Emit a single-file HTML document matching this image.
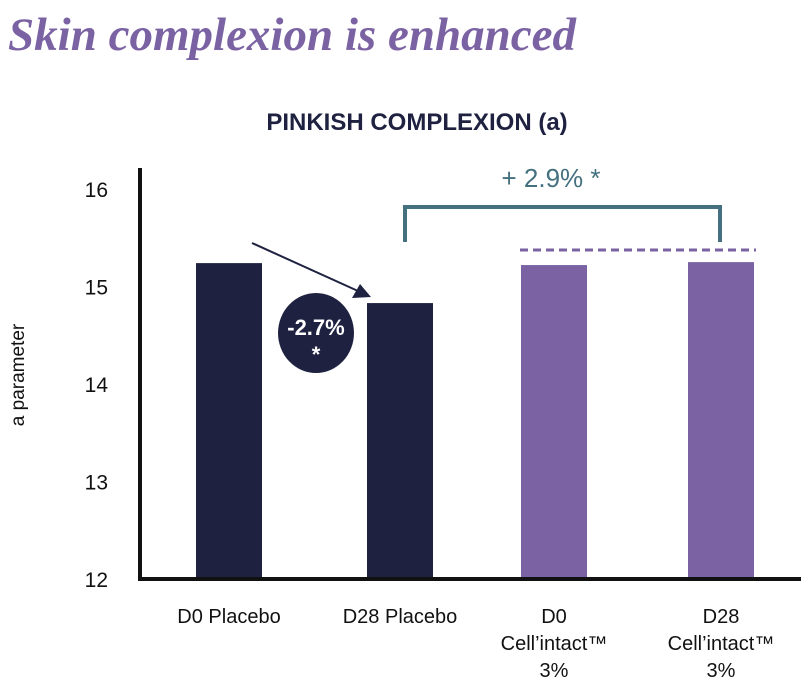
<!DOCTYPE html>
<html><head><meta charset="utf-8"><style>
body{margin:0;background:#fff;width:810px;height:694px;overflow:hidden;font-family:"Liberation Sans",sans-serif}
</style></head><body>
<svg width="810" height="694">
<text x="8" y="50" font-family="Liberation Serif,serif" font-style="italic" font-weight="bold" font-size="47" fill="#7a62a3">Skin complexion is enhanced</text>
<text x="417" y="130" text-anchor="middle" font-weight="bold" font-size="24" fill="#1e2240">PINKISH COMPLEXION (a)</text>
<text x="24" y="375" transform="rotate(-90 24 375)" text-anchor="middle" font-size="19" fill="#111">a parameter</text>
<g id="ticks"></g>
<g id="bars"></g>
<g id="xlabels"></g>
<line x1="140" y1="168" x2="140" y2="581" stroke="#111" stroke-width="4"/>
<line x1="138" y1="579" x2="801" y2="579" stroke="#111" stroke-width="4"/>
<polyline points="405,242 405,207 720,207 720,242" fill="none" stroke="#44707f" stroke-width="4"/>
<text x="551" y="187" text-anchor="middle" font-size="26" fill="#44707f">+ 2.9% *</text>
<line x1="520" y1="250" x2="756" y2="250" stroke="#7a62a3" stroke-width="3" stroke-dasharray="8,5"/>
<line x1="252" y1="243" x2="358" y2="291" stroke="#1e2240" stroke-width="2"/>
<polygon points="371,297 352,298 360,284" fill="#1e2240"/>
<ellipse cx="316" cy="333" rx="38" ry="40" fill="#1e2240"/>
<text x="316" y="335" text-anchor="middle" font-weight="bold" font-size="22" fill="#fff">-2.7%</text>
<text x="316" y="362" text-anchor="middle" font-weight="bold" font-size="22" fill="#fff">*</text>
</svg>
<script>
const categories=[["D0 Placebo"],["D28 Placebo"],["D0","Cell’intact™","3%"],["D28","Cell’intact™","3%"]];
const values=[15.24,14.83,15.22,15.25];
const colors=["#1e2240","#1e2240","#7a62a3","#7a62a3"];
const tickLabels=[12,13,14,15,16];
const NS="http://www.w3.org/2000/svg";
const y=v=>579-(v-12)*97.5;
const xc=[229,400,554,721];
const bw=66;
const tg=document.getElementById('ticks'),bg=document.getElementById('bars'),lg=document.getElementById('xlabels');
tickLabels.forEach(t=>{const e=document.createElementNS(NS,'text');


e.setAttribute('x',108);e.setAttribute('y',y(t)+8);e.setAttribute('text-anchor','end');e.setAttribute('font-size','21');e.setAttribute('fill','#111');e.textContent=t;tg.appendChild(e);});
values.forEach((v,i)=>{const r=document.createElementNS(NS,'rect');


r.setAttribute('x',xc[i]-bw/2);r.setAttribute('y',y(v));r.setAttribute('width',bw);r.setAttribute('height',579-y(v));r.setAttribute('fill',colors[i]);bg.appendChild(r);
categories[i].forEach((s,j)=>{const t=document.createElementNS(NS,'text');


t.setAttribute('x',xc[i]);t.setAttribute('y',623+j*27);t.setAttribute('text-anchor','middle');t.setAttribute('font-size','20');t.setAttribute('fill','#111');t.textContent=s;lg.appendChild(t);});});
</script>
</body></html>
